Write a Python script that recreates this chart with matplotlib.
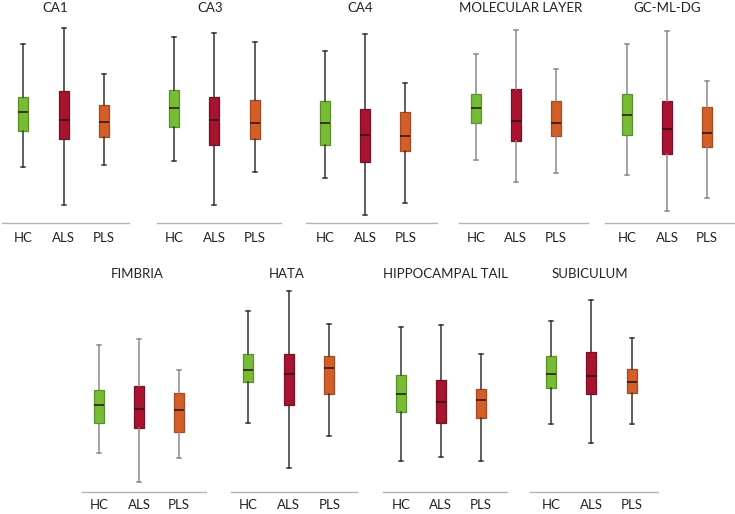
import matplotlib
matplotlib.use("Agg")
import matplotlib.pyplot as plt

# ---------------- data (arbitrary units) ----------------
regions = ["CA1", "CA3", "CA4", "MOLECULAR LAYER", "GC-ML-DG",
           "FIMBRIA", "HATA", "HIPPOCAMPAL TAIL", "SUBICULUM"]
groups = ["HC", "ALS", "PLS"]

# each entry: [whisker_low, q1, median, q3, whisker_high] for HC, ALS, PLS
ca1 = [[55.3, 91.7, 110.7, 126.0, 178.7],
       [18.0, 84.0, 102.7, 131.7, 194.7],
       [58.0, 86.0, 100.3, 117.3, 148.7]]
ca3 = [[61.3, 96.0, 114.7, 132.7, 185.3],
       [18.0, 78.0, 103.0, 125.3, 189.3],
       [50.7, 83.7, 100.0, 122.7, 180.7]]
ca4 = [[44.7, 77.7, 99.7, 122.0, 171.3],
       [7.3, 61.0, 87.3, 114.0, 188.7],
       [20.0, 71.7, 86.7, 110.7, 139.3]]
mol = [[63.0, 99.3, 114.7, 128.7, 168.7],
       [41.0, 81.7, 102.0, 133.7, 192.7],
       [49.3, 86.7, 99.3, 122.0, 153.3]]
gcml = [[48.0, 87.3, 107.7, 128.3, 178.7],
        [12.0, 68.3, 94.0, 122.0, 191.3],
        [24.7, 76.0, 89.7, 115.7, 141.7]]
fimbria = [[38.7, 68.7, 86.7, 102.0, 146.7],
           [9.7, 63.7, 82.7, 105.7, 152.7],
           [33.7, 60.3, 82.0, 99.3, 121.7]]
hata = [[68.7, 109.7, 122.0, 138.3, 180.7],
        [24.3, 87.3, 117.7, 137.7, 201.3],
        [55.7, 97.7, 123.7, 135.7, 167.7]]
tail = [[31.3, 80.0, 98.0, 117.0, 164.7],
        [35.0, 69.3, 90.0, 111.7, 167.3],
        [31.3, 74.3, 91.7, 103.3, 137.7]]
subic = [[68.0, 104.0, 117.7, 135.7, 171.0],
         [49.0, 98.3, 115.7, 139.7, 192.0],
         [68.0, 98.7, 110.3, 122.7, 154.0]]
panel_data = [ca1, ca3, ca4, mol, gcml, fimbria, hata, tail, subic]

# ---------------- layout / style ----------------
W, H = 735, 514
fig = plt.figure(figsize=(W / 100, H / 100), dpi=100)
plt.rcParams["font.family"] = ["Lato", "DejaVu Sans"]

box_colors = ["#76bd33", "#a8132f", "#d45e27"]
edge_colors = ["#5a8f2a", "#7a1025", "#a54a20"]
whisk_dark, whisk_gray = "#333333", "#8a8a8a"
whisk_cols = [whisk_dark, whisk_dark, whisk_dark, whisk_gray, whisk_gray,
              whisk_gray, whisk_dark, whisk_dark, whisk_dark]

# pixel layout: (line_left, line_right, hc_x, pls_x, baseline_y, title_x)
layout = [
    (2, 129, 23.3, 103.7, 222.5, 55),
    (157, 281, 174, 254.7, 222.5, 210),
    (306, 437, 325.3, 405.3, 222.5, 360),
    (459, 588, 475.7, 555.7, 222.5, 521),
    (605, 735, 627.3, 706.7, 222.5, 667),
    (82, 206, 99, 179, 492, 137),
    (231, 357, 248, 329.3, 492, 287),
    (383, 507, 400.7, 480.7, 492, 445),
    (530, 658, 551, 631.7, 492, 590),
]
title_y = {222.5: 8, 492: 274}
label_pad = {222.5: 7.0, 492: 5.0}
ax_height_px = 205

for i, (name, data) in enumerate(zip(regions, panel_data)):
    l, r, hx, px, base, tx = layout[i]
    s = (px - hx) / 2.0
    ax = fig.add_axes([l / W, (H - base) / H, (r - l) / W, ax_height_px / H])
    x0 = 1 + (l - hx) / s
    x1 = 3 + (r - px) / s
    ax.set_xlim(x0, x1)
    ax.set_ylim(0, ax_height_px)
    stats = []
    for g, d in zip(groups, data):
        lo, q1, med, q3, hi = d
        stats.append(dict(label=g, whislo=lo, q1=q1, med=med, q3=q3, whishi=hi, fliers=[]))
    wc = whisk_cols[i]
    bp = ax.bxp(stats, positions=[1, 2, 3], widths=10 / s, capwidths=4 / s,
                patch_artist=True, showfliers=False,
                whiskerprops=dict(color=wc, linewidth=1.1),
                capprops=dict(color=wc, linewidth=1.1),
                medianprops=dict(color="#2a1010", linewidth=1.1))
    for patch, fc, ec in zip(bp["boxes"], box_colors, edge_colors):
        patch.set_facecolor(fc)
        patch.set_edgecolor(ec)
        patch.set_linewidth(0.9)
    for sp in ["top", "right", "left"]:
        ax.spines[sp].set_visible(False)
    ax.spines["bottom"].set_color("#b3b3b3")
    ax.spines["bottom"].set_linewidth(1.0)
    ax.set_yticks([])
    ax.set_xticks([1, 2, 3])
    ax.set_xticklabels(groups, fontsize=9.5, color="#222222")
    ax.tick_params(axis="x", length=0, pad=label_pad[base])
    ax.patch.set_alpha(0)
    fig.text(tx / W, 1 - title_y[base] / H, name, ha="center", va="center",
             fontsize=9.5, color="#222222")

fig.savefig("out.png", dpi=100)
